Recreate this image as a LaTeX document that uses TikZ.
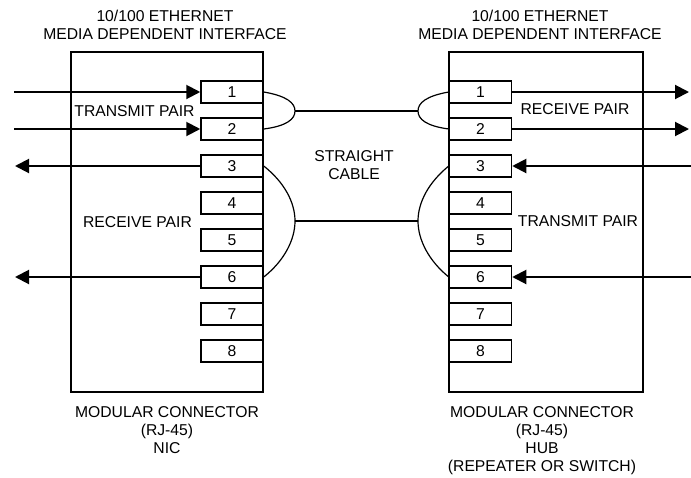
\documentclass[tikz,border=0pt]{standalone}
\usepackage{fontspec}
\setmainfont{Liberation Sans}
\usepackage{tikz}
\usetikzlibrary{arrows.meta}
\usetikzlibrary{positioning}

\begin{document}
\begin{tikzpicture}[x=1pt, y=-1pt,
    font=\fontsize{15.7pt}{18pt}\selectfont,
    pinbox/.style={draw, line width=1.5pt, fill=white, minimum width=62pt, minimum height=22pt, inner sep=0pt},
    jack/.style={draw, line width=1.5pt, minimum height=340pt, inner sep=0pt},
    sig/.style={line width=2pt, -{Triangle[length=14pt, width=14pt]}},
    wire/.style={line width=1.2pt},
    caption/.style={align=center, anchor=north, inner sep=0pt}]
            \useasboundingbox (0,0) rectangle (691,477);

            % connector bodies
            \draw (167,222) node[jack, minimum width=192pt]       (nic) {};
            \draw (546,222) node[jack, minimum width=194pt]       (hub) {};

            % NIC side pins
            \draw (232,92)  node[pinbox]                   (n1) {1};
            \draw (232,129) node[pinbox]                   (n2) {2};
            \draw (232,166) node[pinbox]                   (n3) {3};
            \draw (232,203) node[pinbox]                   (n4) {4};
            \draw (232,240) node[pinbox]                   (n5) {5};
            \draw (232,277) node[pinbox]                   (n6) {6};
            \draw (232,314) node[pinbox]                   (n7) {7};
            \draw (232,351) node[pinbox]                   (n8) {8};

            % hub side pins
            \draw (480.5,92)  node[pinbox]                 (h1) {1};
            \draw (480.5,129) node[pinbox]                 (h2) {2};
            \draw (480.5,166) node[pinbox]                 (h3) {3};
            \draw (480.5,203) node[pinbox]                 (h4) {4};
            \draw (480.5,240) node[pinbox]                 (h5) {5};
            \draw (480.5,277) node[pinbox]                 (h6) {6};
            \draw (480.5,314) node[pinbox]                 (h7) {7};
            \draw (480.5,351) node[pinbox]                 (h8) {8};

            % free ends and cable joints
            \coordinate (ni1) at (14,92);
            \coordinate (ni2) at (14,129);
            \coordinate (no3) at (15,166);
            \coordinate (no6) at (15,277);
            \coordinate (ho1) at (689,92);
            \coordinate (ho2) at (689,129);
            \coordinate (hi3) at (691,166);
            \coordinate (hi6) at (691,277);
            \coordinate (ntx) at (295,111);
            \coordinate (nrx) at (295,221);
            \coordinate (hrx) at (418,111);
            \coordinate (htx) at (418,221);

            \draw[sig] (ni1) -- (n1.west);
            \draw[sig] (ni2) -- (n2.west);
            \draw[sig] (n3.west) -- (no3);
            \draw[sig] (n6.west) -- (no6);
            \draw[sig] (h1.east) -- (ho1);
            \draw[sig] (h2.east) -- (ho2);
            \draw[sig] (hi3) -- (h3.east);
            \draw[sig] (hi6) -- (h6.east);

            % pairs and straight cable
            \draw[wire] (n1.east) .. controls (287,96) and (295,103) .. (ntx);
            \draw[wire] (n2.east) .. controls (287,126) and (295,119) .. (ntx);
            \draw[wire] (n3.east) .. controls (284,182) and (295,202) .. (nrx);
            \draw[wire] (n6.east) .. controls (284,261) and (295,240) .. (nrx);
            \draw[wire] (h1.west) .. controls (426,96) and (418,103) .. (hrx);
            \draw[wire] (h2.west) .. controls (426,126) and (418,119) .. (hrx);
            \draw[wire] (h3.west) .. controls (429,182) and (418,202) .. (htx);
            \draw[wire] (h6.west) .. controls (429,261) and (418,240) .. (htx);
            \draw[wire] (ntx) -- (hrx);
            \draw[wire] (nrx) -- (htx);

            % labels
            \node (ntxl) at (134.5,111) {TRANSMIT PAIR};
            \node (nrxl) at (137.5,222) {RECEIVE PAIR};
            \node (hrxl) at (575,109)   {RECEIVE PAIR};
            \node (htxl) at (578,221)   {TRANSMIT PAIR};
            \node[align=center] (cbl) at (354,165.5) {STRAIGHT\\CABLE};
            \node[caption] (ntitle) at (165,9.5)  {10/100 ETHERNET\\MEDIA DEPENDENT INTERFACE};
            \node[caption] (htitle) at (540,9.5)  {10/100 ETHERNET\\MEDIA DEPENDENT INTERFACE};
            \node[caption] (ncap) at (167,406.5)  {MODULAR CONNECTOR\\(RJ-45)\\NIC};
            \node[caption] (hcap) at (542,406.5)  {MODULAR CONNECTOR\\(RJ-45)\\HUB\\(REPEATER OR SWITCH)};

\end{tikzpicture}
\end{document}
